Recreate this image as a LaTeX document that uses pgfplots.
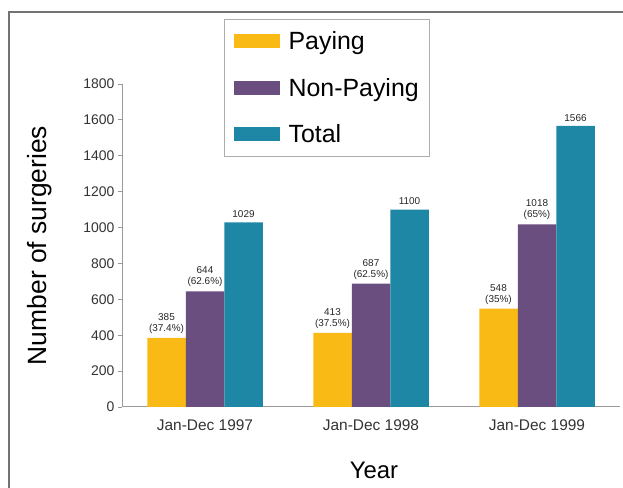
\documentclass[border=0pt]{standalone}
\usepackage{fontspec}
\setmainfont{Liberation Sans}
\usepackage{pgfplots}
\pgfplotsset{compat=1.18}
\definecolor{cpay}{HTML}{F9BA16}
\definecolor{cnon}{HTML}{6A4E80}
\definecolor{ctot}{HTML}{1E87A5}
\definecolor{axgray}{HTML}{999999}
\begin{document}
\begin{tikzpicture}[x=1bp,y=1bp]
\path[use as bounding box] (0,0) rectangle (623,488);
\draw[color=gray!90!black, line width=1.5bp] (9,0) -- (9,476) -- (623,476);
\begin{axis}[
  at={(122bp,81bp)}, anchor=south west,
  scale only axis, width=498bp, height=323bp,
  xmin=-0.5, xmax=2.5, ymin=0, ymax=1800,
  ybar=0pt, bar width=38.5bp,
  axis x line=bottom, axis y line=left,
  axis line style={axgray, line width=1bp, -},
  xtick={0,1,2}, xticklabels={Jan-Dec 1997,Jan-Dec 1998,Jan-Dec 1999},
  extra x ticks={0.5,1.5}, extra x tick labels={},
  extra x tick style={major tick length=3bp, tick style={axgray}},
  x tick style={draw=none},
  ytick={0,200,...,1800},
  y tick style={axgray, line width=0.8bp},
  tick align=outside, major tick length=4bp,
  /pgf/number format/assume math mode=true,
  /pgf/number format/1000 sep={},
  tick label style={font=\fontsize{14}{16}\selectfont, text=black!80},
  xticklabel style={font=\fontsize{15.5}{17}\selectfont, yshift=-5bp},
  ylabel={Number of surgeries}, xlabel={Year},
  ylabel style={at={(axis description cs:-0.165,0.5)}, anchor=center, rotate=0, font=\fontsize{26.5}{30}\selectfont},
  xlabel style={at={(axis description cs:0.506,-0.195)}, anchor=center, font=\fontsize{24}{28}\selectfont},
  point meta=explicit symbolic,
  nodes near coords,
  nodes near coords style={font=\fontsize{10}{11}\selectfont, align=center, anchor=south, yshift=1bp, text=black!85},
  legend style={at={(axis description cs:0.2048,1.201)}, anchor=north west,
    draw=axgray!80, line width=1.2bp, font=\fontsize{25}{28}\selectfont,
    row sep=23bp, inner xsep=9bp, inner ysep=10bp, cells={anchor=west}},
  legend image code/.code={\fill[#1] (0bp,-7bp) rectangle (46bp,7bp);},
  clip=false,
]
\addplot[fill=cpay, draw=none] coordinates {
  (0,385) [{385\\(37.4\%)}]
  (1,413) [{413\\(37.5\%)}]
  (2,548) [{548\\(35\%)}]
};
\addlegendentry{\hspace{7bp}Paying}
\addplot[fill=cnon, draw=none] coordinates {
  (0,644) [{644\\(62.6\%)}]
  (1,687) [{687\\(62.5\%)}]
  (2,1018) [{1018\\(65\%)}]
};
\addlegendentry{\hspace{7bp}Non-Paying}
\addplot[fill=ctot, draw=none] coordinates {
  (0,1029) [1029]
  (1,1100) [1100]
  (2,1566) [1566]
};
\addlegendentry{\hspace{7bp}Total}
\end{axis}
\end{tikzpicture}
\end{document}
